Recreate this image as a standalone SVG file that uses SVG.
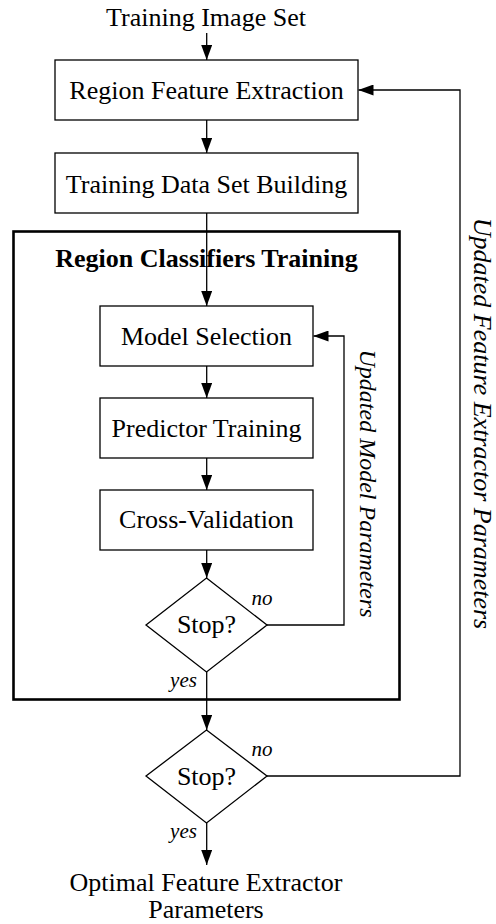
<svg xmlns="http://www.w3.org/2000/svg" width="496" height="924" viewBox="0 0 496 924">
<defs>
<marker id="ah" markerUnits="userSpaceOnUse" markerWidth="15" markerHeight="11" refX="15" refY="5.5" orient="auto">
<path d="M0,0 L15,5.5 L0,11 z" fill="#000"/>
</marker>
<style>
text{font-family:'Liberation Serif','Times New Roman','DejaVu Serif',serif;font-size:26px;fill:#000;text-anchor:middle}
.b{font-weight:bold}
.i{font-style:italic}
.s{font-size:21px}
.box{fill:#fff;stroke:#000;stroke-width:1.3}
.c{fill:none;stroke:#000;stroke-width:1.3}
.frame{fill:none;stroke:#000;stroke-width:2.6}
</style>
</defs>
<rect width="496" height="924" fill="#fff"/>
<g id="frame">
<rect class="frame" x="13.5" y="231.5" width="386" height="468"/>
<text class="b" x="206.5" y="267">Region Classifiers Training</text>
</g>
<g id="connectors">
<line class="c" x1="206.7" y1="33" x2="206.7" y2="60" marker-end="url(#ah)"/>
<line class="c" x1="206.7" y1="120" x2="206.7" y2="153" marker-end="url(#ah)"/>
<line class="c" x1="206.7" y1="213" x2="206.7" y2="306" marker-end="url(#ah)"/>
<line class="c" x1="206.7" y1="366" x2="206.7" y2="398" marker-end="url(#ah)"/>
<line class="c" x1="206.7" y1="458" x2="206.7" y2="490" marker-end="url(#ah)"/>
<line class="c" x1="206.7" y1="550" x2="206.7" y2="578" marker-end="url(#ah)"/>
<line class="c" x1="206.7" y1="672" x2="206.7" y2="730" marker-end="url(#ah)"/>
<line class="c" x1="206.7" y1="823" x2="206.7" y2="865" marker-end="url(#ah)"/>
<polyline class="c" points="267,625 344,625 344,336 313.5,336" marker-end="url(#ah)"/>
<polyline class="c" points="267,776 460,776 460,90 358.5,90" marker-end="url(#ah)"/>
</g>
<g id="input">
<text x="206" y="26">Training Image Set</text>
</g>
<g id="region-feature-extraction">
<rect class="box" x="55" y="60" width="303" height="60"/>
<text x="206.5" y="99">Region Feature Extraction</text>
</g>
<g id="training-data-set-building">
<rect class="box" x="55" y="153" width="303" height="60"/>
<text x="206.5" y="193">Training Data Set Building</text>
</g>
<g id="model-selection">
<rect class="box" x="100" y="306" width="213" height="60"/>
<text x="206.5" y="345">Model Selection</text>
</g>
<g id="predictor-training">
<rect class="box" x="100" y="398" width="213" height="60"/>
<text x="206.5" y="437">Predictor Training</text>
</g>
<g id="cross-validation">
<rect class="box" x="100" y="490" width="213" height="60"/>
<text x="206.5" y="528">Cross-Validation</text>
</g>
<g id="stop1">
<polygon class="box" points="206.5,578 267,625 206.5,672 146,625"/>
<text x="206.5" y="633">Stop?</text>
<text class="i s" x="262" y="605">no</text>
<text class="i s" x="183.5" y="687">yes</text>
</g>
<g id="stop2">
<polygon class="box" points="206.5,730 267,776 206.5,823 146,776"/>
<text x="206.5" y="785">Stop?</text>
<text class="i s" x="262" y="756">no</text>
<text class="i s" x="183.5" y="838">yes</text>
</g>
<g id="output">
<text x="206" y="891">Optimal Feature Extractor</text>
<text x="206" y="918">Parameters</text>
</g>
<g id="label-model-params">
<text class="i" transform="translate(360,483.5) rotate(90)" style="font-size:24px">Updated Model Parameters</text>
</g>
<g id="label-feature-params">
<text class="i" transform="translate(474,423.5) rotate(90)">Updated Feature Extractor Parameters</text>
</g>
</svg>
